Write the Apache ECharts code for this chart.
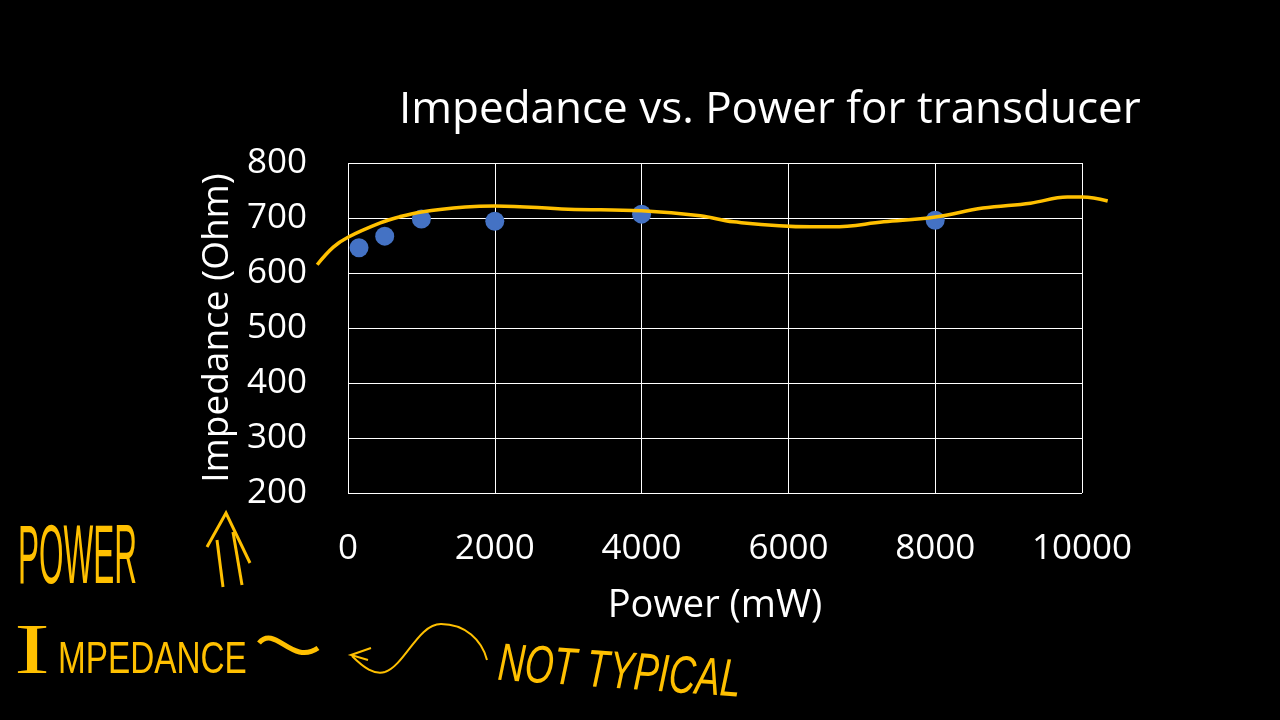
<!DOCTYPE html>
<html>
<head>
<meta charset="utf-8">
<script src="https://cdn.jsdelivr.net/npm/echarts@6/dist/echarts.min.js"></script>
<style>
  html, body { margin: 0; padding: 0; background: #000; }
  #chart { width: 1280px; height: 720px; }
</style>
</head>
<body>
<div id="chart"></div>
<script>
// measured points
const powerMw = [150, 500, 1000, 2000, 4000, 8000];
const impedanceOhm = [646, 667, 698, 694, 707, 696];

// hand-drawn orange trend line
const trendPower = [-420, -200, 0, 440, 700, 1000, 1600, 2000, 3000, 4000, 4800, 5250, 6300, 6600, 7300, 8000, 8650, 9300, 9800, 10000, 10350];
const trendImpedance = [615, 647, 665, 691, 702, 711, 720, 722, 716, 713, 704, 693, 684, 684, 693, 702, 718, 727, 738, 738, 731];

const ink = "#FFC000";
const font = "'Open Sans', sans-serif";
const hand = "'Liberation Sans', sans-serif";

// plot box; the pen line sits on a wider hidden grid with the same scale
const plotLeft = 348, plotTop = 163, plotW = 734, plotH = 330;
const pxPerMw = plotW / 10000;
const penMin = -500, penMax = 10500;

const chart = echarts.init(document.getElementById("chart"));

chart.setOption({
  backgroundColor: "#000",
  animation: false,
  title: {
    text: "Impedance vs. Power for transducer",
    left: 394,
    top: 83,
    textStyle: { color: "#fff", fontFamily: font, fontWeight: "normal", fontSize: 44 }
  },
  grid: [
    { left: plotLeft, top: plotTop, width: plotW, height: plotH },
    { left: plotLeft + penMin * pxPerMw, top: plotTop, width: (penMax - penMin) * pxPerMw, height: plotH }
  ],
  xAxis: [
    {
      type: "value",
      min: 0,
      max: 10000,
      interval: 2000,
      name: "Power (mW)",
      nameLocation: "middle",
      nameGap: 94,
      nameTextStyle: { color: "#fff", fontFamily: font, fontSize: 38 },
      axisLine: { show: false },
      axisTick: { show: false },
      axisLabel: { color: "#fff", fontFamily: font, fontSize: 35, margin: 39, formatter: v => String(v) },
      splitLine: { lineStyle: { color: "#fff", width: 1 } }
    },
    { type: "value", gridIndex: 1, min: penMin, max: penMax, show: false }
  ],
  yAxis: [
    {
      type: "value",
      min: 200,
      max: 800,
      interval: 100,
      name: "Impedance (Ohm)",
      nameLocation: "middle",
      nameGap: 110,
      nameTextStyle: { color: "#fff", fontFamily: font, fontSize: 37 },
      axisLine: { show: false },
      axisTick: { show: false },
      axisLabel: { color: "#fff", fontFamily: font, fontSize: 35, margin: 41 },
      splitLine: { lineStyle: { color: "#fff", width: 1 } }
    },
    { type: "value", gridIndex: 1, min: 200, max: 800, show: false }
  ],
  series: [
    {
      name: "Impedance",
      type: "scatter",
      symbolSize: 19,
      itemStyle: { color: "#4472C4", opacity: 1 },
      data: powerMw.map((p, i) => [p, impedanceOhm[i]])
    },
    {
      name: "Trend",
      type: "line",
      xAxisIndex: 1,
      yAxisIndex: 1,
      smooth: 0.4,
      showSymbol: false,
      clip: false,
      z: 5,
      lineStyle: { color: ink, width: 3.5 },
      data: trendPower.map((p, i) => [p, trendImpedance[i]])
    }
  ],
  graphic: [
    // POWER with double arrow
    {
      type: "text", x: 18, y: 560, scaleX: 0.375,
      style: { text: "POWER", fill: ink, font: "84px " + hand, verticalAlign: "middle" }
    },
    { type: "polyline", shape: { points: [[217, 540], [223, 587]] }, style: { stroke: ink, lineWidth: 3 } },
    { type: "polyline", shape: { points: [[233, 532], [242, 585]] }, style: { stroke: ink, lineWidth: 3 } },
    { type: "polyline", shape: { points: [[207, 547], [226, 513], [250, 563]] }, style: { stroke: ink, lineWidth: 3, fill: null } },

    // IMPEDANCE ~
    {
      type: "text", x: 14, y: 654, scaleX: 1.5,
      style: { text: "I", fill: ink, font: "72px 'Liberation Serif', serif", verticalAlign: "middle" }
    },
    {
      type: "text", x: 58, y: 661, scaleX: 0.74,
      style: { text: "MPEDANCE", fill: ink, font: "45px " + hand, verticalAlign: "middle" }
    },
    {
      type: "bezierCurve",
      shape: { x1: 259, y1: 643, cpx1: 275, cpy1: 624, cpx2: 292, cpy2: 666, x2: 318, y2: 648 },
      style: { stroke: ink, lineWidth: 5, fill: null }
    },

    // arrow with wiggle
    { type: "polyline", shape: { points: [[371, 648], [351, 655], [368, 660]] }, style: { stroke: ink, lineWidth: 2, fill: null } },
    {
      type: "bezierCurve",
      shape: { x1: 352, y1: 656, cpx1: 364, cpy1: 668, cpx2: 374, cpy2: 675, x2: 385, y2: 672 },
      style: { stroke: ink, lineWidth: 2, fill: null }
    },
    {
      type: "bezierCurve",
      shape: { x1: 385, y1: 672, cpx1: 405, cpy1: 665, cpx2: 418, cpy2: 624, x2: 441, y2: 624 },
      style: { stroke: ink, lineWidth: 2, fill: null }
    },
    {
      type: "bezierCurve",
      shape: { x1: 441, y1: 624, cpx1: 465, cpy1: 624, cpx2: 482, cpy2: 640, x2: 487, y2: 660 },
      style: { stroke: ink, lineWidth: 2, fill: null }
    },

    // NOT TYPICAL
    {
      type: "text", x: 498, y: 665, scaleX: 0.7, rotation: -0.07,
      style: { text: "NOT TYPICAL", fill: ink, font: "italic 53px " + hand, verticalAlign: "middle" }
    }
  ]
});
</script>
</body>
</html>
